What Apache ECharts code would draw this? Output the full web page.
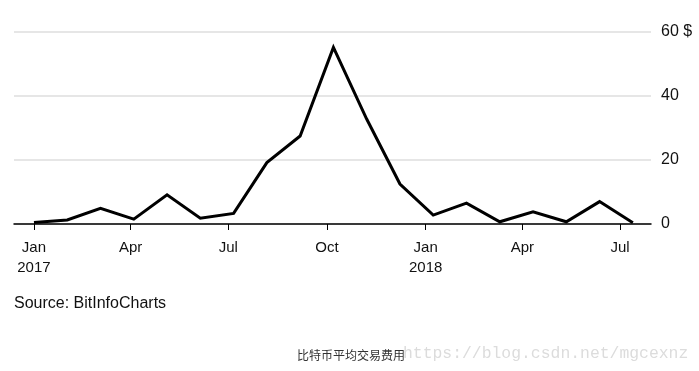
<!DOCTYPE html>
<html>
<head>
<meta charset="utf-8">
<script src="https://cdn.jsdelivr.net/npm/echarts@6/dist/echarts.min.js"></script>
<style>
html,body{margin:0;padding:0;background:#fff;}
#chart{width:699px;height:371px;}
</style>
</head>
<body>
<div id="chart"></div>
<script>
var dates = ['2017-01-01','2017-02-01','2017-03-04','2017-04-04','2017-05-05','2017-06-05','2017-07-06','2017-08-06','2017-09-06','2017-10-07','2017-11-07','2017-12-08','2018-01-08','2018-02-08','2018-03-11','2018-04-11','2018-05-12','2018-06-12','2018-07-13'];
var fees = [0.5, 1.25, 4.9, 1.5, 9.1, 1.8, 3.3, 19.2, 27.5, 55.2, 32.8, 12.5, 2.8, 6.5, 0.7, 3.8, 0.7, 7.0, 0.4];
var tickDates = ['2017-01-01','2017-04-01','2017-07-01','2017-10-01','2018-01-01','2018-04-01','2018-07-01'];
var tickLabels = ['Jan\n2017','Apr','Jul','Oct','Jan\n2018','Apr','Jul'];
var yTicks = [0, 20, 40, 60];
var yUnit = '$';
var sourceText = 'Source: BitInfoCharts';
var titleText = '比特币平均交易费用';
var watermarkText = 'https://blog.csdn.net/mgcexnz';

var DAY = 86400000;
function ts(s){ var p = s.split('-'); return Date.UTC(+p[0], +p[1]-1, +p[2]); }
var tickTs = tickDates.map(ts);
var seriesData = dates.map(function(d, i){ return [ts(d), fees[i]]; });
var font = '"Liberation Sans", Arial, sans-serif';

var chart = echarts.init(document.getElementById('chart'), null, {renderer:'canvas'});
chart.setOption({
  animation: false,
  backgroundColor: '#fff',
  grid: {left: 14, right: 48, top: 32, bottom: 147, containLabel: false},
  xAxis: {
    type: 'value',
    min: ts('2016-12-13') + 0.4*DAY,
    max: ts('2018-07-29') + 0.9*DAY,
    axisLine: {show: true, onZero: false, lineStyle: {color: '#000', width: 1.5}},
    axisTick: {show: true, length: 6, lineStyle: {color: '#000', width: 1}, customValues: tickTs},
    splitLine: {show: false},
    axisLabel: {
      customValues: tickTs,
      margin: 14,
      color: '#111',
      fontSize: 15,
      fontFamily: font,
      lineHeight: 20,
      align: 'center',
      showMinLabel: true,
      showMaxLabel: true,
      formatter: function(v){
        var i = tickTs.indexOf(v);
        return i >= 0 ? tickLabels[i] : '';
      }
    }
  },
  yAxis: {
    type: 'value',
    position: 'right',
    min: yTicks[0],
    max: yTicks[yTicks.length-1],
    interval: 20,
    axisLine: {show: false},
    axisTick: {show: false},
    splitLine: {show: true, lineStyle: {color: '#dedede', width: 1.5}},
    axisLabel: {
      margin: 10,
      color: '#111',
      fontSize: 16,
      fontFamily: font,
      formatter: function(v){ return v === yTicks[yTicks.length-1] ? v + ' ' + yUnit : String(v); }
    }
  },
  series: [{
    type: 'line',
    data: seriesData,
    showSymbol: false,
    symbol: 'none',
    lineStyle: {color: '#000', width: 3, join: 'miter'},
    z: 5
  }],
  graphic: [
    {type: 'text', left: 14, top: 296, style: {text: sourceText, font: '16px ' + font, fill: '#111'}},
    {type: 'text', left: 297, top: 349, style: {text: titleText, font: '12px "Noto Sans CJK SC", sans-serif', fill: '#333'}},
    {type: 'text', left: 403, top: 346, style: {text: watermarkText, font: '16.4px "Liberation Mono", monospace', fill: '#dcdcdc'}}
  ]
});
</script>
</body>
</html>
